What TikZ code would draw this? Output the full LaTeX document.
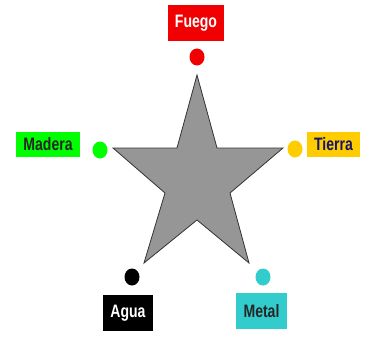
\documentclass[tikz,border=0pt]{standalone}
\usepackage{fontspec}
\setmainfont{Liberation Sans}
\definecolor{fuegored}{RGB}{240,0,0}
\definecolor{maderagreen}{RGB}{0,255,0}
\definecolor{tierragold}{RGB}{255,204,0}
\definecolor{tierratext}{RGB}{20,20,110}
\definecolor{metalcyan}{RGB}{51,204,204}
\definecolor{stargray}{RGB}{150,150,150}
\tikzset{
  lbl/.style={minimum width=#1, minimum height=36pt, inner sep=0pt, font=\fontsize{18}{18}\selectfont\bfseries},
  dot/.style={ellipse, minimum width=15pt, minimum height=17pt, inner sep=0pt},
}
\usetikzlibrary{shapes.geometric}
\begin{document}
\begin{tikzpicture}[x=1pt,y=-1pt]
\useasboundingbox (0,0) rectangle (369,337);
\fill[white] (0,0) rectangle (369,337);
% star
\draw[fill=stargray, draw=black!80, line width=0.8pt]
  (197,75) -- (217,148) -- (283,148) -- (230,193) -- (249,263) -- (197,220)
  -- (144,263) -- (165,193) -- (113,148) -- (177,148) -- cycle;
% dots
\node[dot, fill=fuegored] (dF) at (197,57) {};
\node[dot, fill=maderagreen] (dM) at (100,150) {};
\node[dot, fill=tierragold] (dT) at (295,149) {};
\node[dot, fill=black] (dA) at (132,277) {};
\node[dot, fill=metalcyan] (dMe) at (263,277) {};
% labels
\node[lbl=56pt, fill=fuegored, text=white] (F) at (196,23.5) {\scalebox{0.78}[1]{Fuego}};
\node[lbl=64pt, minimum height=25pt, fill=maderagreen, text=black!85] (M) at (48,144.5) {\scalebox{0.78}[1]{Madera}};
\node[lbl=53pt, minimum height=25pt, fill=tierragold, text=tierratext] (T) at (333.5,144.5) {\scalebox{0.78}[1]{Tierra}};
\node[lbl=50pt, fill=black, text=white] (A) at (128,313) {\scalebox{0.78}[1]{Agua}};
\node[lbl=51pt, fill=metalcyan, text=black!85] (Me) at (261.5,311) {\scalebox{0.78}[1]{Metal}};
\end{tikzpicture}
\end{document}
